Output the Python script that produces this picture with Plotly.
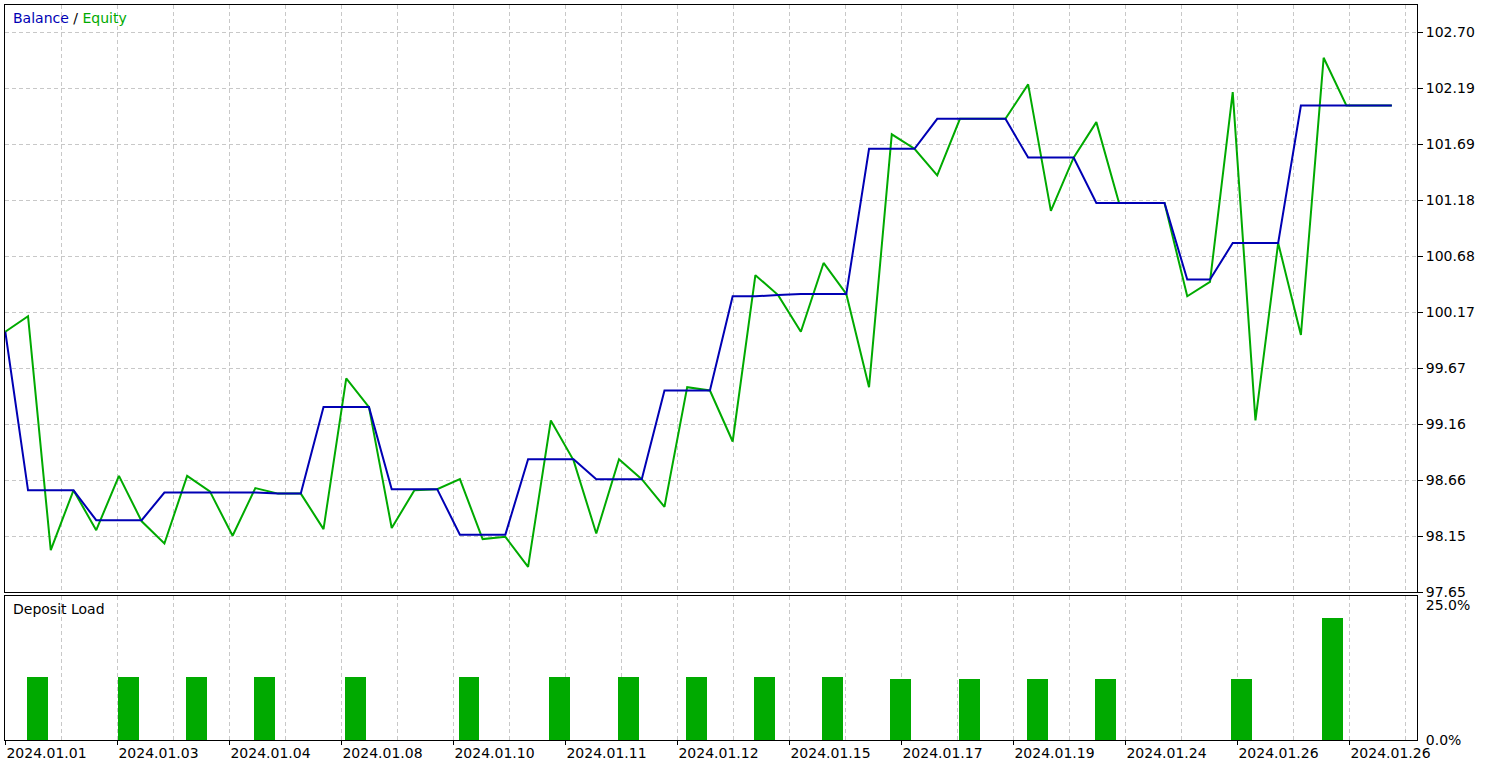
import plotly.graph_objects as go

# ---------------- data ----------------
deals = list(range(62))
balance = [100.00, 98.57, 98.57, 98.57, 98.30, 98.30, 98.30, 98.55, 98.55, 98.55,
           98.55, 98.55, 98.54, 98.54, 99.32, 99.32, 99.32, 98.58, 98.58, 98.58,
           98.17, 98.17, 98.17, 98.85, 98.85, 98.85, 98.67, 98.67, 98.67, 99.47,
           99.47, 99.47, 100.32, 100.32, 100.33, 100.34, 100.34, 100.34, 101.65, 101.65,
           101.65, 101.92, 101.92, 101.92, 101.92, 101.57, 101.57, 101.57, 101.16, 101.16,
           101.16, 101.16, 100.47, 100.47, 100.80, 100.80, 100.80, 102.04, 102.04, 102.04,
           102.04, 102.04]
equity = [100.00, 100.14, 98.03, 98.57, 98.21, 98.70, 98.29, 98.09, 98.70, 98.56,
          98.16, 98.59, 98.54, 98.54, 98.22, 99.58, 99.32, 98.23, 98.57, 98.58,
          98.67, 98.13, 98.15, 97.88, 99.20, 98.84, 98.18, 98.85, 98.67, 98.42,
          99.50, 99.47, 99.01, 100.51, 100.33, 100.00, 100.62, 100.34, 99.50, 101.78,
          101.65, 101.41, 101.92, 101.92, 101.92, 102.23, 101.09, 101.57, 101.89, 101.16,
          101.16, 101.16, 100.32, 100.45, 102.16, 99.20, 100.80, 99.97, 102.47, 102.04,
          102.04, 102.04]
load_deals = [1, 5, 8, 11, 15, 20, 24, 27, 30, 33, 36, 39, 42, 45, 48, 54, 58]
load_pct = [11.67, 11.85, 11.85, 11.85, 11.67, 11.85, 11.85, 11.85, 11.67, 11.67,
            11.67, 11.48, 11.48, 11.30, 11.30, 11.30, 22.60]
date_labels = ["2024.01.01", "2024.01.03", "2024.01.04", "2024.01.08", "2024.01.10",
               "2024.01.11", "2024.01.12", "2024.01.15", "2024.01.17", "2024.01.19",
               "2024.01.24", "2024.01.26", "2024.01.26"]
y_tick_labels = ["97.65", "98.15", "98.66", "99.16", "99.67", "100.17", "100.68",
                 "101.18", "101.69", "102.19", "102.70"]
load_tick_labels = ["0.0%", "25.0%"]

# ---------------- layout geometry ----------------
W, H = 1492, 766
ML, MR, MT, MB = 5, 75, 5, 26
plot_w = W - ML - MR
plot_h = H - MT - MB
px_per_deal = 22.73
first_deal_px = 5.3
grid_px = 56.0

x_lo = (ML - first_deal_px) / px_per_deal
x_hi = (W - MR - first_deal_px) / px_per_deal
grid_step = grid_px / px_per_deal
grid0 = (5.5 - first_deal_px) / px_per_deal
label_step = 2 * grid_step
label_vals = [grid0 + label_step * i for i in range(len(date_labels))]

main_bottom_px = 592.3
low_top_px = 595.5
bottom_px = H - MB
dom_main = [(bottom_px - main_bottom_px) / plot_h, 1.0]
dom_low = [0.0, (bottom_px - low_top_px) / plot_h]

y0 = float(y_tick_labels[0])
y1 = float(y_tick_labels[-1])
y_step = (y1 - y0) / (len(y_tick_labels) - 1)
y_tickvals = [y0 + y_step * i for i in range(len(y_tick_labels))]
val_per_px = y_step / grid_px
y_top = y0 + (main_bottom_px - MT) * val_per_px

load_max = float(load_tick_labels[-1].rstrip('%'))
px_per_pct = (bottom_px - 605.0) / load_max
low_top = (bottom_px - low_top_px) / px_per_pct

BLUE = "#0000b4"
GREEN = "#00aa00"
GRID = "#c8c8c8"
FONT = "DejaVu Sans"

fig = go.Figure()
fig.add_trace(go.Scatter(x=deals, y=equity, mode="lines", line=dict(color=GREEN, width=2),
                         xaxis="x", yaxis="y", name="Equity"))
fig.add_trace(go.Scatter(x=deals, y=balance, mode="lines", line=dict(color=BLUE, width=2),
                         xaxis="x", yaxis="y", name="Balance"))
fig.add_trace(go.Bar(x=load_deals, y=load_pct, width=0.92, offset=-0.06,
                     marker=dict(color=GREEN, line=dict(width=0)),
                     xaxis="x2", yaxis="y2", name="Deposit Load"))

axis_common = dict(showline=True, linecolor="black", linewidth=1, mirror=True,
                   zeroline=False, automargin=False)

fig.update_layout(
    width=W, height=H,
    margin=dict(l=ML, r=MR, t=MT, b=MB, pad=0, autoexpand=False),
    paper_bgcolor="white", plot_bgcolor="white",
    showlegend=False,
    bargap=0,
    font=dict(family=FONT, size=14, color="black"),
    xaxis=dict(domain=[0, 1], anchor="y", range=[x_lo, x_hi],
               tick0=grid0, dtick=grid_step, tickmode="linear",
               showticklabels=False, ticks="",
               showgrid=True, gridcolor=GRID, griddash="4px,3px", gridwidth=1,
               **axis_common),
    yaxis=dict(domain=dom_main, anchor="x", side="right", range=[y0, y_top],
               tickmode="array", tickvals=y_tickvals, ticktext=y_tick_labels,
               ticks="outside", ticklen=5, tickcolor="black",
               showgrid=True, gridcolor=GRID, griddash="4px,3px", gridwidth=1,
               tickfont=dict(family=FONT, size=14, color="black"),
               **axis_common),
    xaxis2=dict(domain=[0, 1], anchor="y2", range=[x_lo, x_hi],
                tickmode="array", tickvals=label_vals, ticktext=date_labels,
                ticks="outside", ticklen=4, tickcolor="black",
                ticklabelshift=41, ticklabelstandoff=-4,
                showgrid=True, gridcolor=GRID, griddash="4px,3px", gridwidth=1,
                minor=dict(tick0=grid0, dtick=grid_step, showgrid=True, gridcolor=GRID,
                           griddash="4px,3px", gridwidth=1, ticks=""),
                tickfont=dict(family=FONT, size=14, color="black"),
                **axis_common),
    yaxis2=dict(domain=dom_low, anchor="x2", side="right", range=[0, low_top],
                tickmode="array", tickvals=[0, load_max], ticktext=load_tick_labels,
                ticks="outside", ticklen=5, tickcolor="rgba(0,0,0,0)",
                showgrid=False,
                tickfont=dict(family=FONT, size=14, color="black"),
                **axis_common),
)

fig.add_annotation(xref="paper", yref="paper",
                   x=(11 - ML) / plot_w, y=(bottom_px - 18) / plot_h,
                   xanchor="left", yanchor="middle", showarrow=False,
                   text=f"<span style='color:{BLUE}'>Balance</span> / "
                        f"<span style='color:{GREEN}'>Equity</span>",
                   font=dict(family=FONT, size=14, color="black"))
fig.add_annotation(xref="paper", yref="paper",
                   x=(11 - ML) / plot_w, y=(bottom_px - 609) / plot_h,
                   xanchor="left", yanchor="middle", showarrow=False,
                   text="Deposit Load",
                   font=dict(family=FONT, size=14, color="black"))

fig.write_html("out.html", config={"displayModeBar": False},
               post_script="document.body.style.margin='0';document.body.style.padding='0';")
